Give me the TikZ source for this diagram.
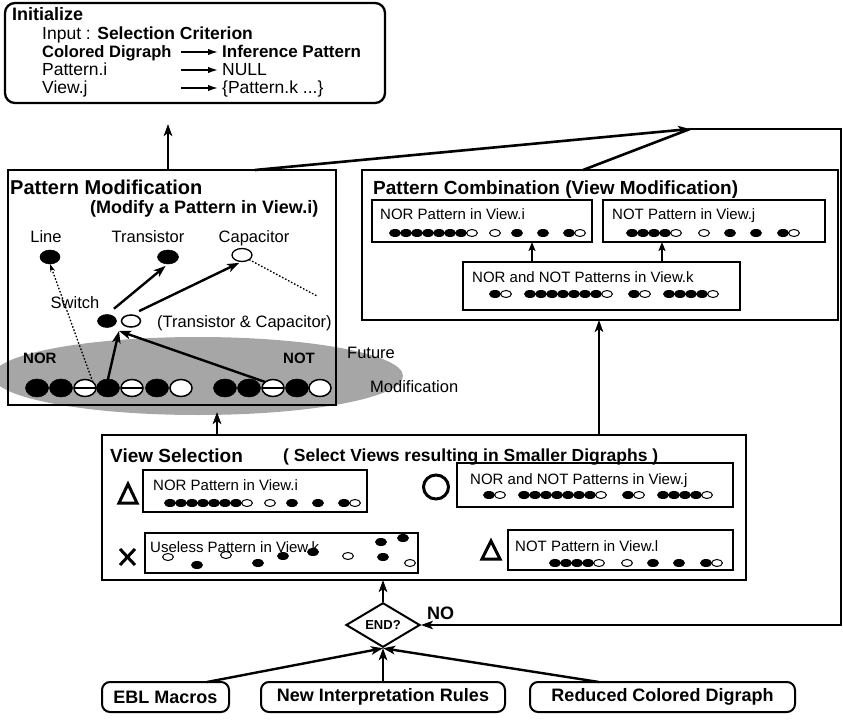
\documentclass[tikz,border=0pt]{standalone}
\usepackage{fontspec}
\setmainfont{Liberation Sans}
\usetikzlibrary{arrows.meta,shapes.geometric,calc}

\newcommand\fsz[1]{\fontsize{#1}{#1}\selectfont}
% small gate dots used in the pattern strips
\newcommand\pfdot[2]{\fill (#1,#2) ellipse [x radius=6, y radius=4];}
\newcommand\podot[2]{\draw[line width=1pt, fill=white] (#1,#2) ellipse [x radius=5.4, y radius=3.5];}
% NOR pattern strip
\newcommand\norpat[2]{%
  \foreach \k in {0,...,6}{\pfdot{#1+11*\k}{#2}}
  \podot{#1+77}{#2}\podot{#1+100}{#2}\pfdot{#1+122}{#2}\pfdot{#1+148}{#2}
  \pfdot{#1+174}{#2}\podot{#1+185}{#2}}
% NOT pattern strip
\newcommand\notpat[2]{%
  \foreach \k in {0,...,3}{\pfdot{#1+11*\k}{#2}}
  \podot{#1+44}{#2}\podot{#1+72}{#2}\pfdot{#1+98}{#2}\pfdot{#1+124}{#2}
  \pfdot{#1+151}{#2}\podot{#1+162}{#2}}
% combined NOR and NOT strip
\newcommand\nnpat[2]{%
  \pfdot{#1}{#2}\podot{#1+11}{#2}
  \foreach \k in {0,...,6}{\pfdot{#1+35+11*\k}{#2}}
  \podot{#1+112}{#2}
  \pfdot{#1+139}{#2}\podot{#1+150}{#2}
  \foreach \k in {0,...,3}{\pfdot{#1+174+11*\k}{#2}}
  \podot{#1+218}{#2}}

\begin{document}
\begin{tikzpicture}[x=1pt,y=-1pt,
  box/.style={draw, line width=2.3pt, anchor=north west, inner sep=0pt, outer sep=0pt},
  ibox/.style={draw, line width=1.1pt, anchor=north west, inner sep=0pt, outer sep=0pt},
  rbox/.style={box, rounded corners=10pt},
  endbox/.style={draw, line width=2pt, rounded corners=8pt, inner sep=0pt, outer sep=0pt, minimum height=30pt, font=\fsz{18}\bfseries},
  ttl/.style={anchor=base west, inner sep=0pt, font=\fsz{19}\bfseries},
  sub/.style={anchor=base west, inner sep=0pt, font=\fsz{17.5}\bfseries},
  lbl/.style={anchor=base west, inner sep=0pt, font=\fsz{16.5}},
  ilbl/.style={anchor=base west, inner sep=0pt, font=\fsz{17.5}},
  sml/.style={anchor=base west, inner sep=0pt, font=\fsz{15}},
  gf/.style={ellipse, fill=black, draw=black, line width=0.5pt, inner sep=0pt, outer sep=0pt, minimum width=23pt, minimum height=18pt},
  go/.style={ellipse, fill=white, draw=black, line width=1.5pt, inner sep=0pt, outer sep=0pt, minimum width=22pt, minimum height=17pt},
  gs/.style={go, path picture={\draw[line width=2.6pt] (path picture bounding box.west) -- (path picture bounding box.east);}},
  arr/.style={line width=2.4pt, -{Stealth[length=12pt,width=8.5pt,inset=3pt]}},
  sarr/.style={line width=1.8pt, -{Stealth[length=9pt,width=7pt,inset=2pt]}},
  tarr/.style={line width=1.6pt, -{Latex[length=10pt,width=6.5pt]}},
  dotl/.style={line width=1.3pt, dash pattern=on 1.6pt off 1.8pt},
  wire/.style={line width=1.8pt},
  symb/.style={line width=3pt, line join=miter},
]
\useasboundingbox (0,0) rectangle (843,722);

% shaded region of future modification
\fill[black!35] (198,376) ellipse [x radius=205, y radius=39];

% ---------- Initialize ----------
\node[rbox, minimum width=380pt, minimum height=100pt] (init) at (5,3) {};
\node[ttl, font=\fsz{18}\bfseries] (initt) at (12,21) {Initialize};
\node[ilbl] (r1) at (42,40) {Input : \textbf{Selection Criterion}};
\node[ilbl, font=\fsz{16.5}\bfseries] (r2l) at (42,58) {Colored Digraph};
\node[ilbl, font=\fsz{17}\bfseries] (r2r) at (222,58) {Inference Pattern};
\node[ilbl] (r3l) at (42,76) {Pattern.i};
\node[ilbl] (r3r) at (222,76) {NULL};
\node[ilbl] (r4l) at (42,94) {View.j};
\node[ilbl] (r4r) at (222,94) {\{Pattern.k ...\}};
\foreach \r in {r2r,r3r,r4r}
  \draw[tarr] ([xshift=-41pt,yshift=6pt]\r.base west) -- ([xshift=-4pt,yshift=6pt]\r.base west);

% ---------- Pattern Modification ----------
\node[box, minimum width=328pt, minimum height=235pt] (pm) at (8,170) {};
\node[ttl, font=\fsz{20}\bfseries] (pmt) at (10,195) {Pattern Modification};
\node[sub, font=\fsz{18}\bfseries] (pms) at (90,214) {(Modify a Pattern in View.i)};
\node[lbl, anchor=base] (tline) at (46,242) {Line};
\node[lbl, anchor=base] (ttr) at (148,242) {Transistor};
\node[lbl, anchor=base] (tcap) at (254,242) {Capacitor};
\node[gf, minimum width=20pt, minimum height=14pt] (olin) at (50,257) {};
\node[gf, minimum width=21pt, minimum height=14pt] (otr) at (168,257) {};
\node[go, minimum width=20pt, minimum height=13pt, line width=1.3pt] (ocap) at (242,255) {};
\node[lbl, anchor=base] (tsw) at (75,308) {Switch};
\node[gf, minimum width=19pt, minimum height=13pt] (sw1) at (107,321) {};
\node[go, minimum width=19pt, minimum height=12pt] (sw2) at (131,321) {};
\node[lbl] (ttc) at (157,327) {(Transistor \& Capacitor)};
\node[lbl, font=\fsz{15}\bfseries] (tnor) at (23,363) {NOR};
\node[lbl, font=\fsz{15}\bfseries] (tnot) at (283,363) {NOT};
\node[lbl] (tfut) at (347,358) {Future};
\node[lbl] (tmod) at (370,392) {Modification};
% gate rows
\node[gf] (nor1) at (37,388) {};
\node[gf] (nor2) at (61,388) {};
\node[gs] (nor3) at (85,388) {};
\node[gf] (nor4) at (108,388) {};
\node[gs] (nor5) at (132,388) {};
\node[gf] (nor6) at (157,388) {};
\node[go] (nor7) at (181,388) {};
\node[gf] (not1) at (225,388) {};
\node[gf] (not2) at (249,388) {};
\node[gs] (not3) at (273,388) {};
\node[gf] (not4) at (297,388) {};
\node[go] (not5) at (320,388) {};
\coordinate (swb) at (119,331);
\coordinate (fm) at (317,296);
\draw[arr, shorten <=9pt, shorten >=3pt] (sw1.north) -- (otr.south);
\draw[arr, shorten <=9pt, shorten >=3pt] (sw2.north) -- (ocap.south);
\draw[dotl] (ocap.south east) -- (fm);
\draw[dotl, -{Stealth[length=8pt,width=5pt]}] (nor3.north east) -- (olin.south);
\draw[arr] (nor4.north) -- (swb);
\draw[arr] (not3.north west) -- (swb);

% ---------- Pattern Combination ----------
\node[box, minimum width=476pt, minimum height=150pt] (pc) at (362,170) {};
\node[ttl] (pct) at (373,195) {Pattern Combination (View Modification)};
\node[ibox, minimum width=220pt, minimum height=42pt] (pcnor) at (372,200) {};
\node[sml] (pcnort) at (380,219.5) {NOR Pattern in View.i};
\norpat{395}{233}
\node[ibox, minimum width=222pt, minimum height=42pt] (pcnot) at (603,200) {};
\node[sml] (pcnott) at (612,219.5) {NOT Pattern in View.j};
\notpat{632}{233}
\node[ibox, minimum width=277pt, minimum height=48pt] (pck) at (463,262) {};
\node[sml] (pckt) at (472,282.5) {NOR and NOT Patterns in View.k};
\nnpat{495}{294}
\coordinate (xk1) at (532,0);
\coordinate (xk2) at (662,0);
\draw[sarr] (pck.north -| xk1) -- (pcnor.south -| xk1);
\draw[sarr] (pck.north -| xk2) -- (pcnot.south -| xk2);

% ---------- View Selection ----------
\node[box, minimum width=644pt, minimum height=145pt] (vs) at (102,435) {};
\node[ttl] (vst) at (110,462) {View Selection};
\node[sub] (vss) at (283,461) {( Select Views resulting in Smaller Digraphs )};
\node[ibox, minimum width=224pt, minimum height=42pt] (vsnor) at (143,470) {};
\node[sml] (vsnort) at (153,490.5) {NOR Pattern in View.i};
\norpat{170}{503}
\node[ibox, minimum width=276pt, minimum height=44pt] (vsj) at (457,463) {};
\node[sml] (vsjt) at (470,484.5) {NOR and NOT Patterns in View.j};
\nnpat{489}{495}
\node[ibox, minimum width=273pt, minimum height=40pt] (vsk) at (145,533) {};
\node[sml] (vskt) at (150,552.5) {Useless Pattern in View.k};
\podot{168}{557}\pfdot{197}{565}\podot{226}{555}\pfdot{258}{563}
\pfdot{283}{556}\pfdot{313}{552}\podot{348}{556}\pfdot{383}{557}
\podot{410}{563}\pfdot{381}{542}\pfdot{403}{538}
\node[ibox, minimum width=225pt, minimum height=40pt] (vsl) at (508,530) {};
\node[sml] (vslt) at (515,551.5) {NOT Pattern in View.l};
\notpat{555}{563}
% ratings
\draw[symb] (119,503) -- (128,484) -- (137,503) -- cycle;
\draw[symb] (436,487) ellipse [x radius=12.5, y radius=12];
\draw[symb] (120,549) -- (135,565) (120,565) -- (135,549);
\draw[symb] (482,559) -- (491,541) -- (500,559) -- cycle;

% ---------- termination test and inputs ----------
\node[endbox, minimum width=127pt] (ebl) at (165.5,697) {EBL Macros};
\node[endbox, minimum width=244pt] (nir) at (383,697) {New Interpretation Rules};
\node[endbox, minimum width=265pt] (rcd) at (662.5,697) {Reduced Colored Digraph};
\node[diamond, draw, fill=white, line width=2pt, inner sep=0pt, minimum width=74pt, minimum height=40pt, font=\fsz{13}\bfseries] (endq) at (383,625) {END?};
\node[lbl, font=\fsz{18}\bfseries] (tno) at (427,619) {NO};

% ---------- connectors ----------
\coordinate (xa) at (168,0);
\coordinate (xb) at (217,0);
\coordinate (xc) at (599,0);
\coordinate (xe) at (207,0);
\coordinate (xr) at (599,0);
\coordinate (xpm) at (255,0);
\coordinate (xpc) at (583,0);
\coordinate (jn) at (690,129);
\coordinate (ce) at (841,129);
\draw[arr, shorten >=21pt] (pm.north -| xa) -- (init.south -| xa);
\draw[arr, shorten >=7pt] (vs.north -| xb) -- (pm.south -| xb);
\draw[arr, line width=2pt] (vs.north -| xc) -- (pc.south -| xc);
\draw[arr] (endq.north) -- (vs.south -| endq.north);
\draw[arr] (ebl.north -| xe) -- (endq.south);
\draw[arr] (nir.north) -- (endq.south);
\draw[arr] (rcd.north -| xr) -- (endq.south);
\draw[arr, line width=2.6pt] (pm.north -| xpm) -- (jn);
\draw[line width=2.6pt] (pc.north -| xpc) -- (jn);
\draw[wire, -{Stealth[length=12pt,width=8.5pt,inset=3pt]}] (jn) -- (ce) -- (ce |- endq.east) -- (endq.east);
\end{tikzpicture}
\end{document}
